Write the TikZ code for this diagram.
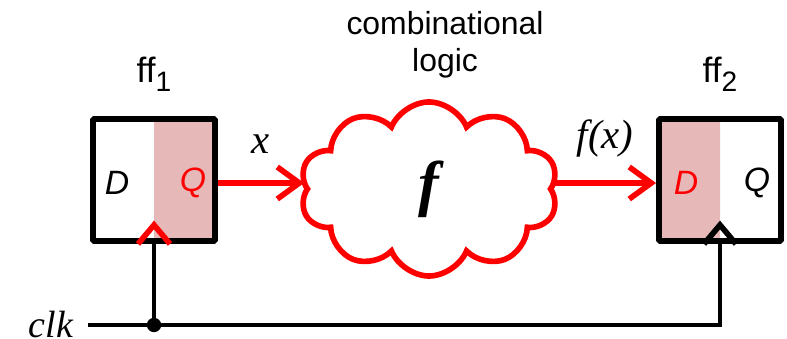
\documentclass[tikz,border=0pt]{standalone}
\usepackage{fontspec}
\setmainfont{Liberation Sans}
\newfontfamily\tmsfont{Liberation Serif}
\usetikzlibrary{positioning,arrows.meta,calc,shapes.symbols}
\definecolor{regshade}{RGB}{230,184,184}

\begin{document}
\begin{tikzpicture}[x=0.025cm, y=-0.025cm,
  ffbox/.style={draw=black, line width=4.2pt, minimum width=3.05cm, minimum height=3.05cm, rounded corners=1pt, inner sep=0pt},
  shadeleft/.style={path picture={\fill[regshade] (path picture bounding box.north west) rectangle (path picture bounding box.south);}},
  shaderight/.style={path picture={\fill[regshade] (path picture bounding box.north) rectangle (path picture bounding box.south east);}},
  pinlab/.style={font=\fontsize{24}{24}\selectfont\itshape, inner sep=0pt},
  fflab/.style={font=\fontsize{25}{25}\selectfont, inner sep=0pt},
  serlab/.style={font=\tmsfont\itshape\fontsize{29}{29}\selectfont, inner sep=2pt},
  sig/.style={draw=red, line width=4pt, -{Straight Barb[length=0.55cm, width=0.8cm]}},
  clkpin/.style={line width=4pt, miter limit=4},
  wire/.style={draw=black, line width=3.3pt},
  joint/.style={circle, fill=black, inner sep=0pt, minimum size=0.36cm}]
\useasboundingbox (0,0) rectangle (787,339);
% registers
\node[ffbox, shaderight] (ff1) at (154,180) {};
\node[ffbox, shadeleft] (ff2) at (720,180) {};
\node[fflab, above=0.6cm of ff1] (name1) {ff\raisebox{-0.22cm}{\fontsize{20}{20}\selectfont 1}};
\node[fflab, above=0.6cm of ff2] (name2) {ff\raisebox{-0.22cm}{\fontsize{20}{20}\selectfont 2}};
\node[pinlab] (d1) at ($(ff1.center)+(-37,3)$) {D};
\node[pinlab, text=red] (q1) at ($(ff1.center)+(39,3)$) {Q};
\node[pinlab, text=red] (d2) at ($(ff2.center)+(-34,3)$) {D};
\node[pinlab] (q2) at ($(ff2.center)+(37,3)$) {Q};
% clock inputs
\draw[clkpin, red] ($(ff1.south)+(-16,0)$) -- ($(ff1.south)+(0,-19)$) -- ($(ff1.south)+(16,0)$);
\draw[clkpin, black] ($(ff2.south)+(-16,0)$) -- ($(ff2.south)+(0,-19)$) -- ($(ff2.south)+(16,0)$);
% combinational logic
\node[cloud, draw=red, line width=4pt, cloud puffs=10, cloud puff arc=135, aspect=1.45,
  minimum width=6.45cm, minimum height=4.35cm, inner sep=0pt,
  font=\tmsfont\bfseries\itshape\fontsize{44}{44}\selectfont] (logic) at (429,189) {f};
\node[align=center, font=\fontsize{22.7}{26.3}\selectfont] (title) at (445,45) {combinational\\logic};
% data path
\draw[sig] (ff1.east) ++(0,3) coordinate (qout) -- (qout -| logic.west) node[serlab, midway, above=0.6cm] {x};
\draw[sig] (logic.east |- qout) coordinate (fout) -- (fout -| ff2.west) node[serlab, midway, above=0.5cm] {f(x)};
% clock
\coordinate (clkin) at (88,325);
\node[serlab, font=\tmsfont\itshape\fontsize{27}{27}\selectfont, left=0.3cm of clkin] (clk) {clk};
\draw[wire] (clkin) -- (ff2.south |- clkin) -- (ff2.south);
\draw[wire] (ff1.south) -- (ff1.south |- clkin) node[joint] (tap) {};
\end{tikzpicture}
\end{document}
